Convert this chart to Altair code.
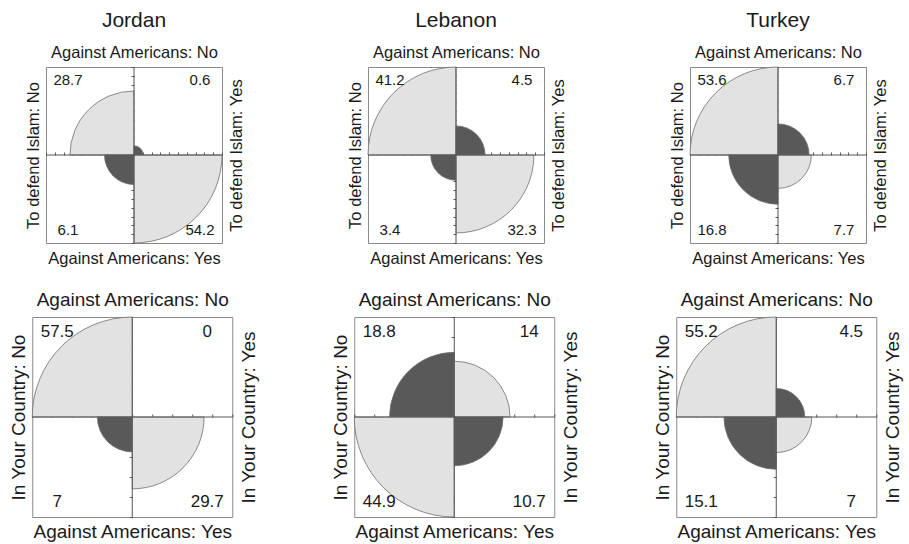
import math

import altair as alt
import pandas as pd

FONT = "Liberation Sans"
INK = "#1a1a1a"
LIGHT = "#e2e2e2"
DARK = "#595959"
EDGE = "#6e6e6e"
BOX = "#8a8a8a"
CROSS = "#555555"

COUNTRIES = ["Jordan", "Lebanon", "Turkey"]
ATTACK_LABELS = ["Against Americans: No", "Against Americans: Yes"]
ISLAM_LABELS = ["To defend Islam: No", "To defend Islam: Yes"]
HOME_LABELS = ["In Your Country: No", "In Your Country: Yes"]

# Percentages per cell, ordered top-left, top-right, bottom-left, bottom-right
islam_jordan = [28.7, 0.6, 6.1, 54.2]
islam_lebanon = [41.2, 4.5, 3.4, 32.3]
islam_turkey = [53.6, 6.7, 16.8, 7.7]
home_jordan = [57.5, 0, 7, 29.7]
home_lebanon = [18.8, 14, 44.9, 10.7]
home_turkey = [55.2, 4.5, 15.1, 7]

# Quadrant geometry for the same cell order (theta runs clockwise from 12 o'clock)
QUAD_START = [3, 0, 2, 1]
QUAD_SX = [-1, 1, -1, 1]
QUAD_SY = [1, 1, -1, -1]
QUAD_DIAG = [True, False, False, True]

ORIGIN = pd.DataFrame({"x": [0.0], "y": [0.0]})


def fourfold(values, y_labels, size, axis_font, num_font, tick_count, pads, title=None):
    a, b, c, d = values
    positive = a * d >= b * c
    df = pd.DataFrame({
        "value": values,
        "start": QUAD_START,
        "end": [s + 1 for s in QUAD_START],
        "lx": [s * 0.75 for s in QUAD_SX],
        "ly": [s * 0.85 for s in QUAD_SY],
        "label": [f"{v:g}" for v in values],
        "shade": ["light" if dg == positive else "dark" for dg in QUAD_DIAG],
    })
    half = size / 2
    dom = alt.Scale(domain=[-1, 1])
    plain = dict(labels=False, ticks=False, domain=False, grid=False,
                 titleFont=FONT, titleFontSize=axis_font, titleFontWeight="normal",
                 titleColor=INK)
    p_top, p_bottom, p_left, p_right = pads

    arcs = alt.Chart(df).mark_arc(stroke=EDGE, strokeWidth=0.8).encode(
        theta=alt.Theta("start:Q", stack=None,
                        scale=alt.Scale(domain=[0, 4], range=[0, 2 * math.pi])),
        theta2="end:Q",
        radius=alt.Radius("value:Q",
                          scale=alt.Scale(type="sqrt", zero=True, nice=False, range=[0, half])),
        fill=alt.Fill("shade:N", legend=None,
                      scale=alt.Scale(domain=["light", "dark"], range=[LIGHT, DARK])),
    )

    hline = alt.Chart(ORIGIN).mark_rule(color=CROSS, strokeWidth=1).encode(
        y=alt.Y("y:Q", scale=dom,
                axis=alt.Axis(orient="left", title=y_labels[0], titlePadding=p_left, **plain)),
    )
    vline = alt.Chart(ORIGIN).mark_rule(color=CROSS, strokeWidth=1).encode(
        x=alt.X("x:Q", scale=dom,
                axis=alt.Axis(orient="bottom", title=ATTACK_LABELS[1], titlePadding=p_bottom,
                              **plain)),
    )
    outer = alt.Chart(ORIGIN).mark_point(opacity=0).encode(
        x=alt.X("x:Q", scale=dom,
                axis=alt.Axis(orient="top", title=ATTACK_LABELS[0], titlePadding=p_top, **plain)),
        y=alt.Y("y:Q", scale=dom,
                axis=alt.Axis(orient="right", title=y_labels[1], titlePadding=p_right,
                              titleAngle=270, titleBaseline="top", **plain)),
    )
    tick_style = dict(labels=False, domain=False, grid=False, title=None, tickCount=tick_count,
                      tickSize=3, tickColor=CROSS, tickWidth=1)
    ticks = alt.Chart(ORIGIN).mark_point(opacity=0).encode(
        x=alt.X("x:Q", scale=dom, axis=alt.Axis(orient="top", offset=-half, **tick_style)),
        y=alt.Y("y:Q", scale=dom, axis=alt.Axis(orient="left", offset=-half, **tick_style)),
    )
    labels = alt.Chart(df).mark_text(font=FONT, fontSize=num_font, color=INK,
                                     baseline="middle", align="center").encode(
        x=alt.X("lx:Q", scale=dom, axis=None),
        y=alt.Y("ly:Q", scale=dom, axis=None),
        text="label:N",
    )

    props = dict(width=size, height=size)
    if title:
        props["title"] = alt.TitleParams(title, font=FONT, fontSize=21, fontWeight="normal",
                                         color=INK, offset=13, anchor="middle")
    return (
        alt.layer(arcs, hline, vline, outer, ticks, labels)
        .resolve_axis(x="independent", y="independent")
        .properties(**props)
    )


top_row = alt.hconcat(
    *[
        fourfold(v, ISLAM_LABELS, 176, 16.5, 15, 20, (7, 7, 5, 6), title=name)
        for v, name in zip([islam_jordan, islam_lebanon, islam_turkey], COUNTRIES)
    ],
    spacing=146,
    bounds="flush",
)
bottom_row = alt.hconcat(
    *[
        fourfold(v, HOME_LABELS, 200, 19, 17, 10, (8, 5, 4, 7))
        for v in [home_jordan, home_lebanon, home_turkey]
    ],
    spacing=122,
    bounds="flush",
)

chart = (
    alt.vconcat(top_row, bottom_row, spacing=22, center=True)
    .configure_view(stroke=BOX, strokeWidth=1)
    .properties(padding={"left": 8, "top": 9, "right": 2, "bottom": 0}, background="white")
)

chart.save("out.html", embed_options={"renderer": "svg", "actions": False})
